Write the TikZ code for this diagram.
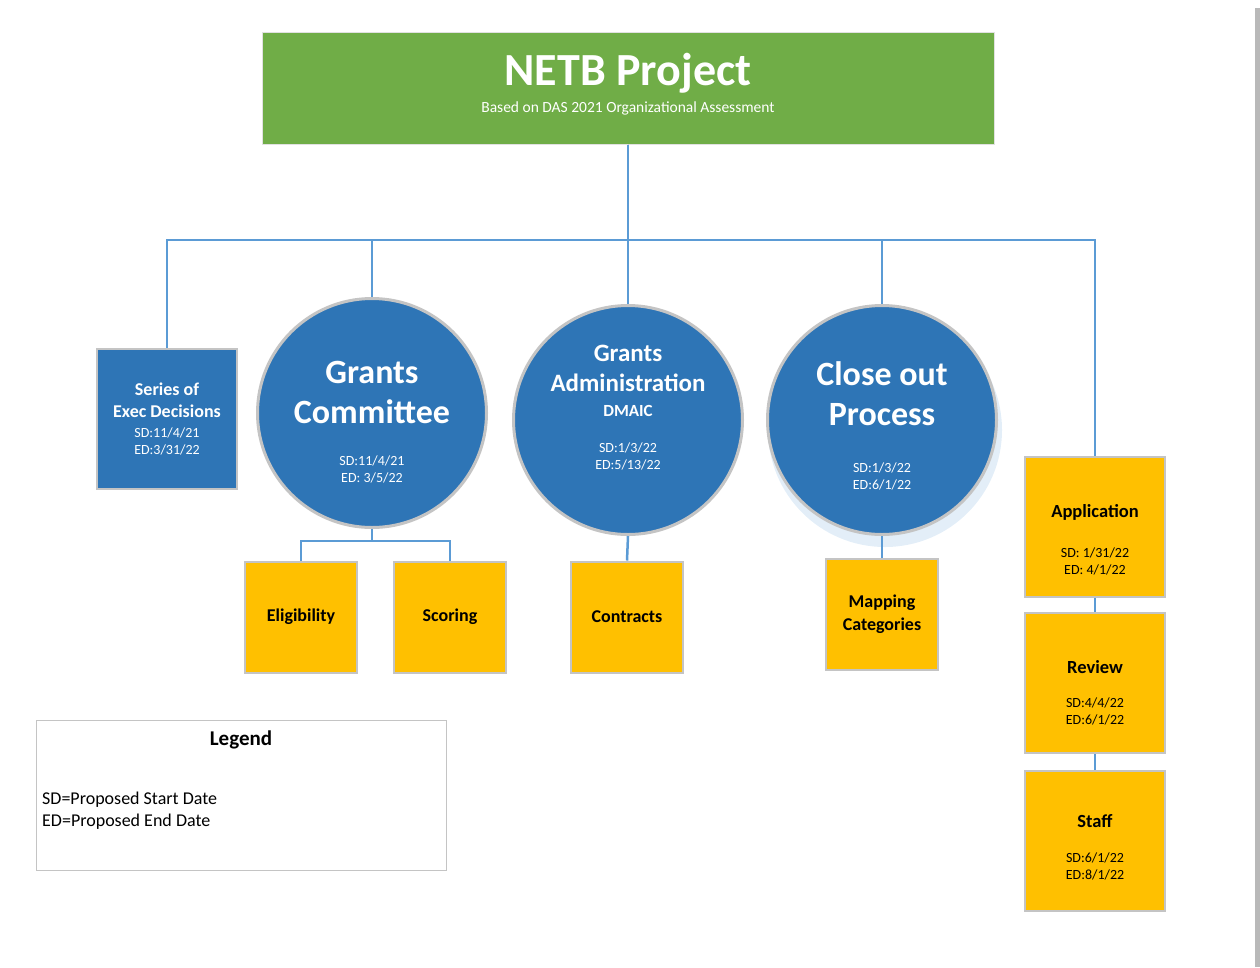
\documentclass[tikz,border=0pt]{standalone}
\usepackage{fontspec}
\setmainfont{Carlito}
\definecolor{projgreen}{HTML}{70AD47}
\definecolor{projblue}{HTML}{2E75B6}
\definecolor{projyellow}{HTML}{FFC000}
\definecolor{linkblue}{HTML}{5B9BD5}
\definecolor{rimgrey}{HTML}{C4C4C4}
\definecolor{glowblue}{HTML}{E3EEF8}
\newcommand{\linesetup}{\parindent=0pt\spaceskip=0pt\xspaceskip=0pt\leftskip=0pt plus 1fil\rightskip=0pt plus 1fil\parfillskip=0pt}
\begin{document}
\begin{tikzpicture}[x=1pt, y=-1pt,
	link/.style={linkblue, line width=2.5pt},
	bluebox/.style={rectangle, fill=projblue, draw=rimgrey, line width=2pt, minimum width=140pt, minimum height=140pt, inner sep=0pt, text=white, text width=140pt, align=center},
	goldbox/.style={rectangle, fill=projyellow, draw=rimgrey, line width=2pt, minimum width=112pt, minimum height=111pt, inner sep=0pt, align=center},
	bigcircle/.style={circle, fill=projblue, draw=rimgrey, line width=3pt, minimum size=229pt, inner sep=0pt},
	circletext/.style={text=white, text width=220pt, align=center, inner sep=0pt},
	stacktext/.style={text width=140pt, align=center, inner sep=0pt}]
	\useasboundingbox (0,0) rectangle (1260,967);
	% Page edge
	\fill [gray!55] (1255,8) rectangle (1260,967);
	% Title
	\node [rectangle, fill=projgreen, draw=rimgrey!50, line width=1pt, minimum width=732pt, minimum height=112pt, inner sep=0pt, text=white, text width=730pt, align=center] (title) at (628,88) {\linesetup\fontsize{46}{50}\selectfont\bfseries NETB Project\par\fontsize{15.5}{27}\selectfont\mdseries Based on DAS 2021 Organizational Assessment\par\kern8pt\hrule height 0pt};
	% Second row
	\node [bluebox] (series) at (167,419) {\linesetup\fontsize{18}{22}\selectfont\bfseries Series of\par Exec Decisions\par\vskip3pt\fontsize{14}{17}\selectfont\mdseries SD:11/4/21\par ED:3/31/22\par};
	\node [bigcircle] (gcomm) at (372,413) {};
	\node [bigcircle] (gadmin) at (628,420) {};
	\fill [glowblue] (885,430) circle (117);
	\node [bigcircle] (closeout) at (882,420) {};
	\node [circletext] (gcommtxt) at (372,422) {\linesetup\fontsize{34}{40}\selectfont\bfseries Grants\par Committee\par\vskip25pt\fontsize{14}{17}\selectfont\mdseries SD:11/4/21\par ED: 3/5/22\par};
	\node [circletext] (gadmintxt) at (628,408) {\linesetup\fontsize{25}{30}\selectfont\bfseries Grants\par Administration\par\fontsize{17}{25}\selectfont DMAIC\par\vskip19pt\fontsize{14}{17}\selectfont\mdseries SD:1/3/22\par ED:5/13/22\par};
	\node [circletext] (closeouttxt) at (882,426) {\linesetup\fontsize{34}{40}\selectfont\bfseries Close out\par Process\par\vskip30pt\fontsize{14}{17}\selectfont\mdseries SD:1/3/22\par ED:6/1/22\par};
	% Right column
	\node [goldbox, minimum width=140pt, minimum height=140pt] (app) at (1095,527) {};
	\node [goldbox, minimum width=140pt, minimum height=140pt] (review) at (1095,683) {};
	\node [goldbox, minimum width=140pt, minimum height=140pt] (staff) at (1095,841) {};
	\node [stacktext] (apptxt) at (1095,540) {\linesetup\fontsize{18.5}{22}\selectfont\bfseries Application\par\vskip23pt\fontsize{14}{17}\selectfont\mdseries SD: 1/31/22\par ED: 4/1/22\par};
	\node [stacktext] (reviewtxt) at (1095,693) {\linesetup\fontsize{18.5}{22}\selectfont\bfseries Review\par\vskip17pt\fontsize{14}{17}\selectfont\mdseries SD:4/4/22\par ED:6/1/22\par};
	\node [stacktext] (stafftxt) at (1095,847) {\linesetup\fontsize{18.5}{22}\selectfont\bfseries Staff\par\vskip18pt\fontsize{14}{17}\selectfont\mdseries SD:6/1/22\par ED:8/1/22\par};
	% Third row
	\node [goldbox] (elig) at (301,617) {\fontsize{18}{22}\selectfont\bfseries Eligibility};
	\node [goldbox] (scoring) at (450,617) {\fontsize{18}{22}\selectfont\bfseries Scoring};
	\node [goldbox] (contracts) at (627,617) {\fontsize{18}{22}\selectfont\bfseries Contracts};
	\node [goldbox, text width=112pt] (mapping) at (882,614) {\linesetup\fontsize{18}{23}\selectfont\bfseries Mapping\par Categories\par};
	% Branches
	\coordinate (bus) at (628,240);
	\foreach \c in {series, gcomm, gadmin, closeout, app} {
		\draw [link] (title.south) -- (title.south |- bus) -| (\c.north);
	}
	\coordinate (gsplit) at (372,541);
	\foreach \c in {elig, scoring} {
		\draw [link] (gcomm.south) -- (gcomm.south |- gsplit) -| (\c.north);
	}
	\draw [link] (gadmin.south) -- (contracts.north);
	\draw [link] (closeout.south) -- (mapping.north);
	\draw [link] (app.south) -- (review.north);
	\draw [link] (review.south) -- (staff.north);
	% Legend
	\node [rectangle, draw=rimgrey, line width=1pt, minimum width=410pt, minimum height=150pt] (legend) at (241,795) {};
	\node [font=\fontsize{21}{25}\selectfont\bfseries] (legendtitle) at (241,740) {Legend};
	\node [anchor=west, align=left, inner sep=0pt, font=\fontsize{18}{22}\selectfont] (legendkey) at (42,811) {SD=Proposed Start Date\\ED=Proposed End Date};
\end{tikzpicture}
\end{document}
